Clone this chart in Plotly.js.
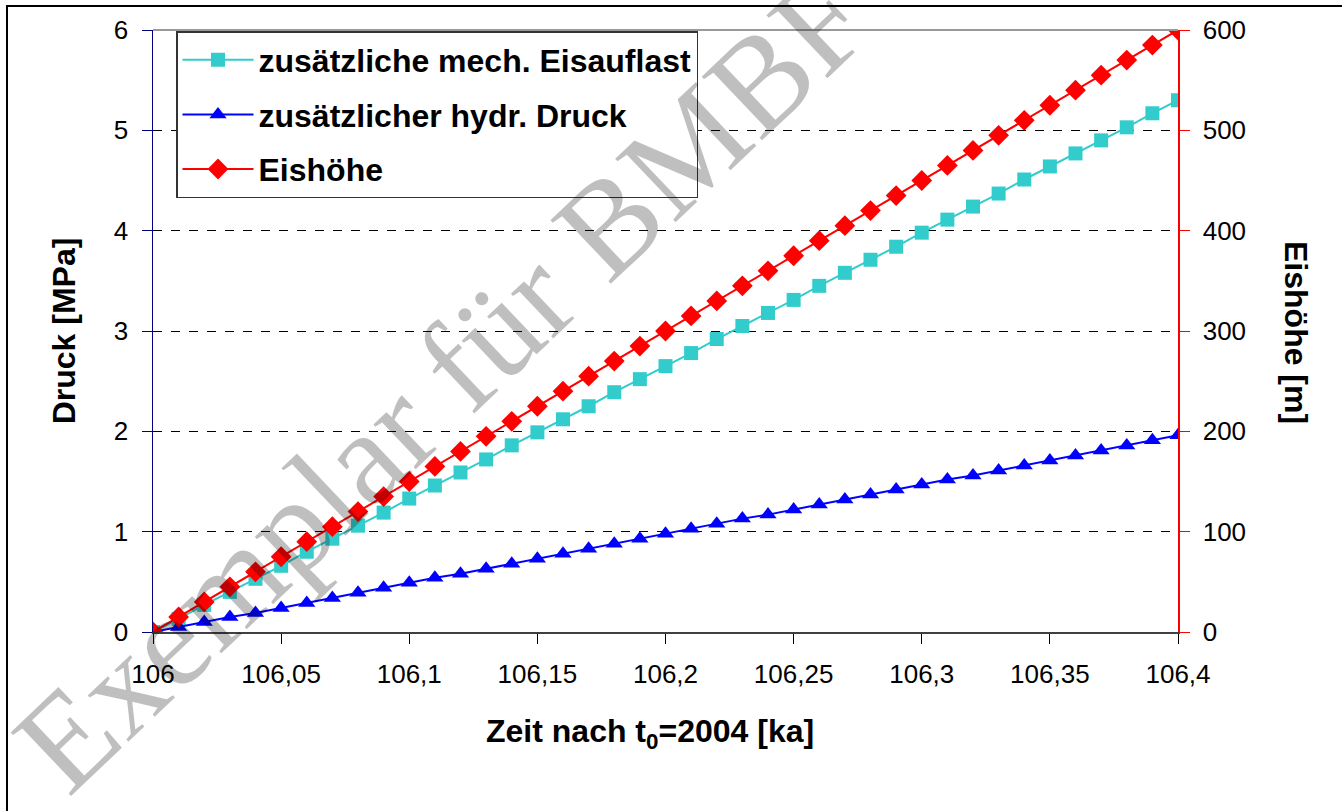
<!DOCTYPE html>
<html>
<head>
<meta charset="utf-8">
<script src="https://cdn.plot.ly/plotly-3.0.1.min.js"></script>
<style>
html,body{margin:0;padding:0;background:#fff;}
#chart{width:1342px;height:811px;}
</style>
</head>
<body>
<div id="chart"></div>
<script>
// Zeit nach t0=2004 [ka]
const zeit = [106.00,106.01,106.02,106.03,106.04,106.05,106.06,106.07,106.08,106.09,
              106.10,106.11,106.12,106.13,106.14,106.15,106.16,106.17,106.18,106.19,
              106.20,106.21,106.22,106.23,106.24,106.25,106.26,106.27,106.28,106.29,
              106.30,106.31,106.32,106.33,106.34,106.35,106.36,106.37,106.38,106.39,106.40];
// zusätzliche mech. Eisauflast [MPa]
const mechEisauflast = [0.00,0.13,0.27,0.40,0.53,0.66,0.80,0.93,1.06,1.19,
                        1.33,1.46,1.59,1.72,1.86,1.99,2.12,2.25,2.39,2.52,
                        2.65,2.78,2.92,3.05,3.18,3.31,3.45,3.58,3.71,3.84,
                        3.98,4.11,4.24,4.37,4.51,4.64,4.77,4.90,5.03,5.17,5.30];
// zusätzlicher hydr. Druck [MPa]
const hydrDruck = [0.00,0.05,0.10,0.15,0.19,0.24,0.29,0.34,0.39,0.44,
                   0.49,0.54,0.58,0.63,0.68,0.73,0.78,0.83,0.88,0.93,
                   0.98,1.03,1.08,1.13,1.17,1.22,1.27,1.32,1.37,1.42,
                   1.47,1.52,1.56,1.61,1.66,1.71,1.76,1.81,1.86,1.91,1.96];
// Eishöhe [m]
const eishoehe = [0,15,30,45,60,75,90,105,120,135,
                  150,165,180,195,210,225,240,255,270,285,
                  300,315,330,345,360,375,390,405,420,435,
                  450,465,480,495,510,525,540,555,570,585,600];

const seriesNames = ['zusätzliche mech. Eisauflast','zusätzlicher hydr. Druck','Eishöhe'];
const xTitle = 'Zeit nach t<sub>0</sub>=2004 [ka]';
const yTitle = 'Druck [MPa]';
const y2Title = 'Eishöhe [m]';
const watermark = 'Exemplar für BMBF';

const FONT = 'Liberation Sans, Arial, sans-serif';

const traces = [
  {x: zeit, y: mechEisauflast, name: seriesNames[0], type: 'scatter', mode: 'lines+markers',
   line: {color: '#33CCCC', width: 2}, marker: {symbol: 'square', size: 14, color: '#33CCCC'},
   legendgroup: 'a', yaxis: 'y'},
  {x: zeit, y: hydrDruck, name: seriesNames[1], type: 'scatter', mode: 'lines+markers',
   line: {color: '#0000FF', width: 2}, marker: {symbol: 'triangle-up', size: 15, color: '#0000FF'},
   legendgroup: 'b', yaxis: 'y'},
  {x: zeit, y: eishoehe, name: seriesNames[2], type: 'scatter', mode: 'lines+markers',
   line: {color: '#FF0000', width: 2}, marker: {symbol: 'diamond', size: 16, color: '#FF0000'},
   legendgroup: 'c', yaxis: 'y2'}
];

const L = 153, R = 1178, T = 30, B = 632, W = 1342, H = 811;
const px = v => (v - L) / (R - L);
const py = v => (B - v) / (B - T);

const layout = {
  width: W, height: H,
  margin: {l: L, r: W - R, t: T, b: H - B, pad: 0},
  paper_bgcolor: '#ffffff', plot_bgcolor: '#ffffff',
  separators: ',.',
  font: {family: FONT, color: '#000', size: 26},
  showlegend: true,
  legend: {
    x: px(176), y: py(31), xanchor: 'left', yanchor: 'top',
    bgcolor: '#ffffff', bordercolor: '#333333', borderwidth: 1.5,
    font: {family: FONT, size: 32, weight: 'bold', color: '#000'},
    traceorder: 'grouped', tracegroupgap: 10, itemwidth: 71
  },
  xaxis: {
    range: [106, 106.4], dtick: 0.05, tick0: 106,
    showgrid: false, zeroline: false,
    showline: true, linecolor: '#404040', linewidth: 2,
    ticks: 'outside', ticklen: 10, tickcolor: '#000', tickwidth: 1,
    tickfont: {family: FONT, size: 26, color: '#000'},
    ticklabelstandoff: 8
  },
  yaxis: {
    range: [0, 6], dtick: 1,
    showgrid: true, gridcolor: '#000000', griddash: 'dash', gridwidth: 1,
    zeroline: false,
    showline: true, linecolor: '#000080', linewidth: 1.5,
    ticks: 'outside', ticklen: 10, tickcolor: '#000080', tickwidth: 1,
    tickfont: {family: FONT, size: 26, color: '#000'},
    ticklabelstandoff: 8,
    title: {text: yTitle, font: {family: FONT, size: 32, weight: 'bold', color: '#000'}, standoff: 28}
  },
  yaxis2: {
    range: [0, 600], dtick: 100, overlaying: 'y', side: 'right',
    showgrid: false, zeroline: false,
    showline: true, linecolor: '#FF0000', linewidth: 1.5,
    ticks: 'outside', ticklen: 10, tickcolor: '#FF0000', tickwidth: 1,
    tickfont: {family: FONT, size: 26, color: '#000'},
    ticklabelstandoff: 8
  },
  shapes: [
    {type: 'line', xref: 'paper', yref: 'paper', x0: 0, x1: 1, y0: 1, y1: 1,
     line: {color: '#999999', width: 2}},
    {type: 'rect', xref: 'paper', yref: 'paper',
     x0: px(7), x1: px(1346), y0: py(816), y1: py(6),
     line: {color: '#000000', width: 2}, layer: 'below'}
  ],
  annotations: [
    {text: xTitle, xref: 'paper', yref: 'paper', x: px(650), y: py(733),
     xanchor: 'center', yanchor: 'middle', showarrow: false,
     font: {family: FONT, size: 32, weight: 'bold', color: '#000'}},
    {text: y2Title, xref: 'paper', yref: 'paper', x: px(1296), y: py(332),
     xanchor: 'center', yanchor: 'middle', textangle: 90, showarrow: false,
     font: {family: FONT, size: 32, weight: 'bold', color: '#000'}},
    {text: watermark, xref: 'paper', yref: 'paper', x: px(442), y: py(382),
     xanchor: 'center', yanchor: 'middle', textangle: -43.5, showarrow: false,
     font: {family: 'Liberation Serif, Times New Roman, serif', size: 134, color: 'rgba(0,0,0,0.25)'}}
  ]
};

Plotly.newPlot('chart', traces, layout, {staticPlot: true, displayModeBar: false});
</script>
</body>
</html>
